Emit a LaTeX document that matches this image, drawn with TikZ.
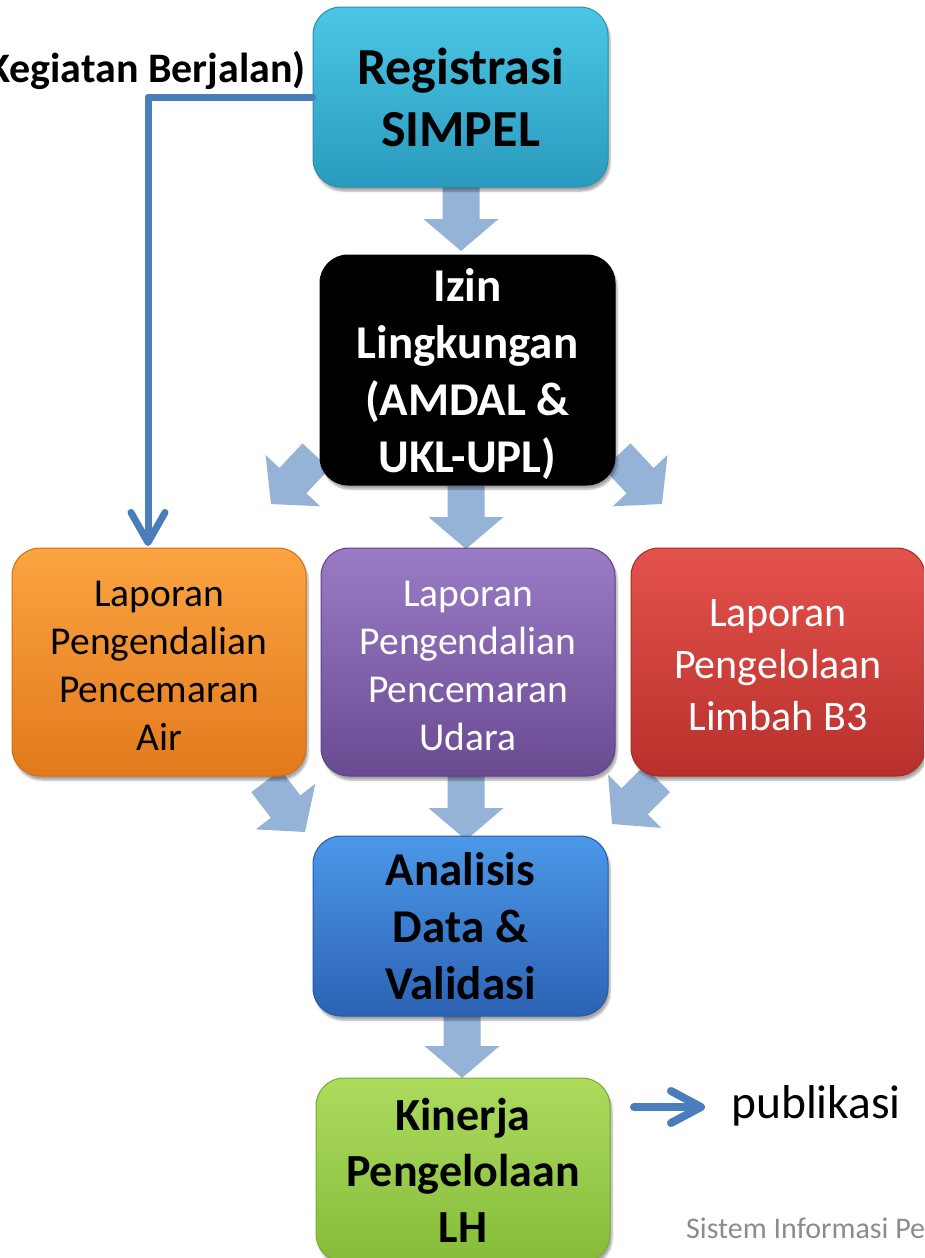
\documentclass[tikz,border=0pt]{standalone}
\usepackage{fontspec}
\setmainfont{Carlito}
\usetikzlibrary{calc,arrows.meta,shadows.blur}

\definecolor{barrowc}{HTML}{95B3D7}
\definecolor{connc}{HTML}{4A7EBB}
\definecolor{footc}{HTML}{8C8C8C}
\definecolor{regT}{HTML}{4CC6E6}
\definecolor{regB}{HTML}{2A9BBE}
\definecolor{regD}{HTML}{2890B0}
\definecolor{airT}{HTML}{FBA441}
\definecolor{airB}{HTML}{E27A1C}
\definecolor{airD}{HTML}{D06E18}
\definecolor{udT}{HTML}{9A7BC6}
\definecolor{udB}{HTML}{6A4B92}
\definecolor{udD}{HTML}{5E4284}
\definecolor{b3T}{HTML}{E4524C}
\definecolor{b3B}{HTML}{B8302C}
\definecolor{b3D}{HTML}{A82A26}
\definecolor{anT}{HTML}{4C98E8}
\definecolor{anB}{HTML}{2C62B4}
\definecolor{anD}{HTML}{2858A4}
\definecolor{kiT}{HTML}{ACDB5E}
\definecolor{kiB}{HTML}{86BC3A}
\definecolor{kiD}{HTML}{78AA32}

\tikzset{
  box/.style={rounded corners=28pt, minimum width=295pt, minimum height=180pt,
    inner sep=0pt, align=center, line width=1pt,
    blur shadow={shadow xshift=2pt, shadow yshift=-4pt, shadow blur steps=6, shadow opacity=35}},
  boxtext/.style={inner sep=0pt, align=center},
  barrow/.style={fill=barrowc},
  connline/.style={draw=connc, line width=7pt, line cap=round, line join=round},
  bigbold/.style={font=\fontsize{47}{57}\selectfont\bfseries},
  midreg/.style={font=\fontsize{39.5}{48}\selectfont},
}

\newcommand{\blockarrow}[2]{%
  \coordinate (ba-s) at ($(#2)!32pt!(#1)$);
  \fill[barrow] ($(#1)!18.5pt!90:(#2)$) -- ($(ba-s)!18.5pt!90:(#2)$) --
    ($(ba-s)!37.5pt!90:(#2)$) -- (#2) -- ($(ba-s)!37.5pt!-90:(#2)$) --
    ($(ba-s)!18.5pt!-90:(#2)$) -- ($(#1)!18.5pt!-90:(#2)$) -- cycle;
}

\begin{document}
\begin{tikzpicture}[x=1pt,y=-1pt]
\useasboundingbox (0,0) rectangle (924,1258);
\clip (0,0) rectangle (924,1258);

% block arrows (behind boxes)
\coordinate (a1s) at (461,186); \coordinate (a1t) at (461,251);
\coordinate (a2s) at (466,486); \coordinate (a2t) at (466,549);
\coordinate (a3s) at (316,456); \coordinate (a3t) at (271,504);
\coordinate (a4s) at (617,456); \coordinate (a4t) at (662,504);
\coordinate (a5s) at (466,776); \coordinate (a5t) at (466,840);
\coordinate (a6s) at (266,781); \coordinate (a6t) at (305,832);
\coordinate (a7s) at (657,779); \coordinate (a7t) at (612,824);
\coordinate (a8s) at (462,1016); \coordinate (a8t) at (462,1078);
\blockarrow{a1s}{a1t}
\blockarrow{a2s}{a2t}
\blockarrow{a3s}{a3t}
\blockarrow{a4s}{a4t}
\blockarrow{a5s}{a5t}
\blockarrow{a6s}{a6t}
\blockarrow{a7s}{a7t}
\blockarrow{a8s}{a8t}

% boxes
\node[box, top color=regT, bottom color=regB, draw=regD,
  font=\fontsize{52}{62}\selectfont\bfseries] (reg) at (460.5,97) {Registrasi\\SIMPEL};
\node[box, fill=black, draw=black, minimum height=230pt] (izin) at (467.5,370) {};
\node[boxtext, text=white, bigbold] (izinT) at ($(izin.center)+(0,4)$)
  {Izin\\Lingkungan\\(AMDAL \&\\UKL-UPL)};
\node[box, top color=airT, bottom color=airB, draw=airD, minimum width=294pt,
  minimum height=228pt] (air) at (159,662) {};
\node[boxtext, midreg] (airT) at ($(air.center)+(0,4)$)
  {Laporan\\Pengendalian\\Pencemaran\\Air};
\node[box, top color=udT, bottom color=udB, draw=udD, minimum width=294pt,
  minimum height=228pt] (udara) at (468,662) {};
\node[boxtext, text=white, midreg] (udaraT) at ($(udara.center)+(0,4)$)
  {Laporan\\Pengendalian\\Pencemaran\\Udara};
\node[box, top color=b3T, bottom color=b3B, draw=b3D, minimum width=294pt,
  minimum height=228pt] (b3) at (778,662) {};
\node[boxtext, text=white, font=\fontsize{42}{52}\selectfont] (b3T) at ($(b3.center)+(0,3)$)
  {Laporan\\Pengelolaan\\Limbah B3};
\node[box, top color=anT, bottom color=anB, draw=anD, bigbold]
  (anal) at (460.5,926) {Analisis\\Data \&\\Validasi};
\node[box, top color=kiT, bottom color=kiB, draw=kiD, minimum width=294pt,
  minimum height=184pt, font=\fontsize{46}{56}\selectfont\bfseries]
  (kin) at (463,1170) {Kinerja\\Pengelolaan\\LH};

% side connector
\node[anchor=base east, inner sep=0pt, font=\fontsize{42}{50}\selectfont\bfseries]
  (keg) at (306,82) {(Kegiatan Berjalan)};
\coordinate (kegEnd) at (148,546);
\draw[connline, -{Straight Barb[length=30pt,width=34pt,line cap=round,line join=round]}]
  (reg.west) -| (kegEnd);

% publikasi
\node[anchor=base west, inner sep=0pt, font=\fontsize{47.5}{56}\selectfont]
  (pub) at (731,1118) {publikasi};
\coordinate (pubS) at (634,1107);
\coordinate (pubE) at (705,1107);
\draw[connline, line width=8pt, -{Straight Barb[length=30pt,width=32pt,line cap=round,line join=round]}]
  (pubS) -- (pubE);

% footer
\node[anchor=base west, inner sep=0pt, text=footc, font=\fontsize{30}{36}\selectfont]
  (foot) at (686,1238) {Sistem Informasi Pelaporan Elektronik};
\end{tikzpicture}
\end{document}
